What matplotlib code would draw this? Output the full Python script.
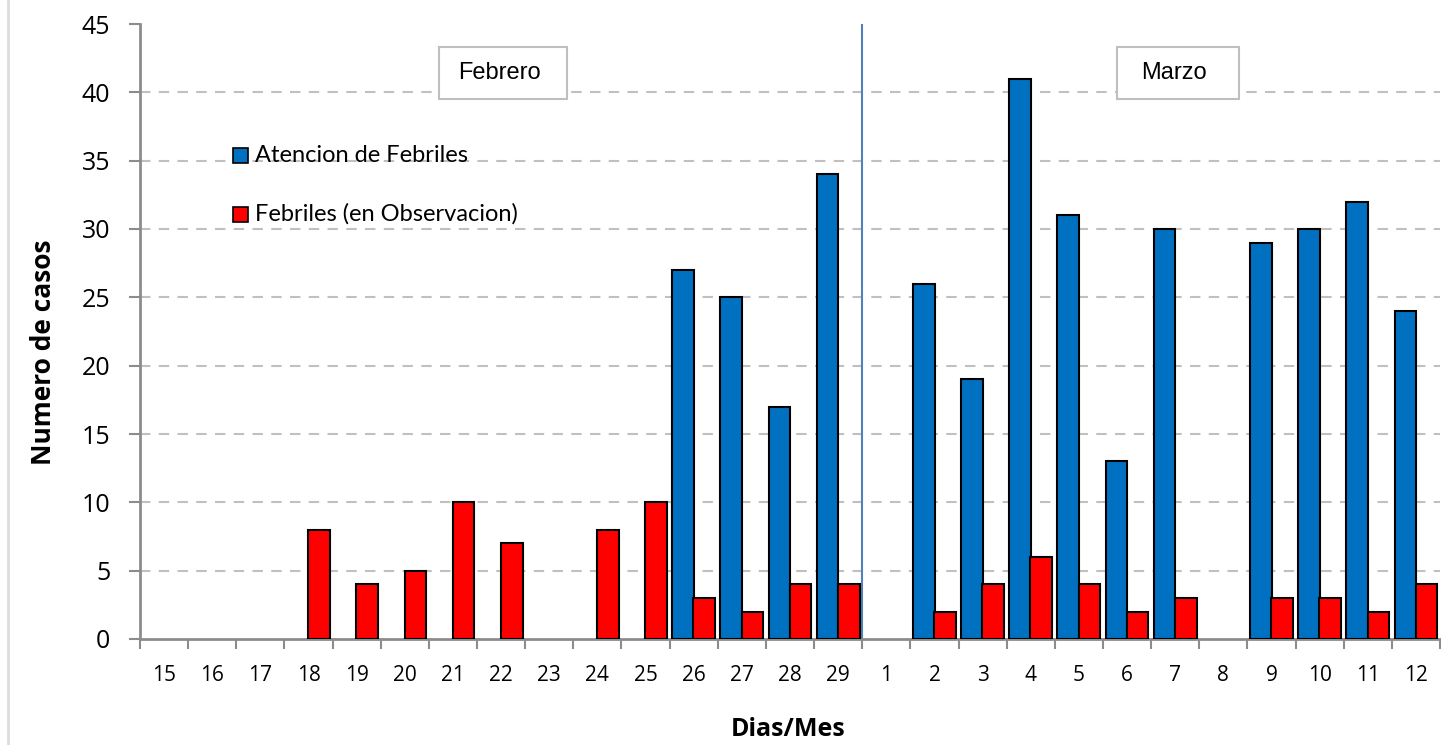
import matplotlib
matplotlib.use("Agg")
import matplotlib.pyplot as plt
import numpy as np
from matplotlib.patches import Rectangle
from matplotlib.lines import Line2D

days = ["15", "16", "17", "18", "19", "20", "21", "22", "23", "24", "25", "26", "27", "28", "29",
        "1", "2", "3", "4", "5", "6", "7", "8", "9", "10", "11", "12"]
atencion = [0, 0, 0, 0, 0, 0, 0, 0, 0, 0, 0, 27, 25, 17, 34,
            0, 26, 19, 41, 31, 13, 30, 0, 29, 30, 32, 24]
observacion = [0, 0, 0, 8, 4, 5, 10, 7, 0, 8, 10, 3, 2, 4, 4,
               0, 2, 4, 6, 4, 2, 3, 0, 3, 3, 2, 4]
series_labels = ["Atencion de Febriles", "Febriles (en Observacion)"]
month_labels = ["Febrero", "Marzo"]

blue = "#0070C0"
red = "#FF0000"
gray = "#8C8C8C"

W, H = 1441, 745
fig = plt.figure(figsize=(W/100, H/100), dpi=100)
ax = fig.add_axes([140/W, 1-639/H, 1300/W, 615/H])

x = np.arange(len(days))
w = 0.45
ax.bar(x - 0.22, atencion, width=w, color=blue,
       edgecolor=["black" if v > 0 else "none" for v in atencion], linewidth=1.5, zorder=3)
ax.bar(x + 0.22, observacion, width=w, color=red,
       edgecolor=["black" if v > 0 else "none" for v in observacion], linewidth=1.5, zorder=3)

ax.set_xlim(-0.5, len(days) - 0.5)
ax.set_ylim(0, 45)
ax.set_yticks(np.arange(0, 46, 5))
ax.set_xticks(x)
ax.set_xticklabels(days, fontsize=15, family="Open Sans")
ax.set_xticks(np.arange(-0.5, len(days), 1), minor=True)
ax.tick_params(axis="x", which="major", length=0, pad=19)
ax.tick_params(axis="x", which="minor", length=7, color=gray, width=1.5, direction="out")
ax.tick_params(axis="y", length=8, color=gray, width=1.5, labelsize=18, pad=13.5)
for lab in ax.get_yticklabels():
    lab.set_family("Open Sans")

for yv in range(5, 45, 5):
    ax.axhline(yv, color="#C0C0C0", linestyle=(0, (5, 4)), linewidth=1.5, zorder=1)

for s in ["top", "right"]:
    ax.spines[s].set_visible(False)
for s in ["left", "bottom"]:
    ax.spines[s].set_color(gray)
    ax.spines[s].set_linewidth(2)

ax.axvline(14.5, color="#4F81BD", linewidth=1.5, zorder=2)

ax.set_ylabel("Numero de casos", fontsize=19, fontweight="bold", family="Open Sans")
ax.yaxis.set_label_coords((57-140)/1300, (639-352)/615)
ax.set_xlabel("Dias/Mes", fontsize=18, fontweight="bold", family="Open Sans")
ax.xaxis.set_label_coords((788-140)/1300, (639-729)/615)
ax.xaxis.label.set_va("center")

# month boxes (axes fraction)
boxes = [((439-140)/1300, 128/1300), ((1117-140)/1300, 122/1300)]
by, bh = (639-99)/615, 52/615
for (bx, bw), lab in zip(boxes, month_labels):
    ax.add_patch(Rectangle((bx, by), bw, bh, transform=ax.transAxes, facecolor="white",
                           edgecolor="#BFBFBF", linewidth=1.5, zorder=5, clip_on=False))
    ax.text(bx + bw/2 - 4/1300, by + bh/2, lab, transform=ax.transAxes, ha="center", va="center",
            fontsize=17, family="Liberation Sans", zorder=6)

# legend (drawn manually in figure pixels)
colors = [blue, red]
rows = [(155, 162), (214, 221)]
for (cy, base), c, lab in zip(rows, colors, series_labels):
    fig.add_artist(Rectangle(((241-7.5)/W, 1-(cy+7.5)/H), 15/W, 15/H, transform=fig.transFigure,
                             facecolor=c, edgecolor="black", linewidth=1.2, zorder=6))
    fig.text(255/W, 1-base/H, lab, fontsize=17, family="Lato", va="baseline", ha="left", zorder=6)

fig.add_artist(Line2D([8/W, 8/W], [0, 1], transform=fig.transFigure, color="#DDDDDD", linewidth=2))

fig.savefig("out.png", dpi=100)
